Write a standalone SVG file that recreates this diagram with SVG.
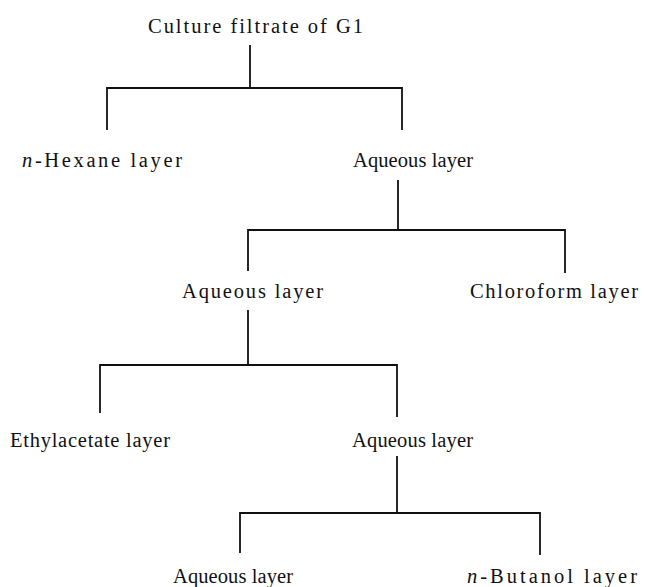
<svg xmlns="http://www.w3.org/2000/svg" width="646" height="587" viewBox="0 0 646 587">
<style>
text{font-family:"Liberation Serif","Times New Roman",serif;font-size:20.5px;fill:#111}
.i{font-style:italic}
#connectors path{fill:none;stroke:#111;stroke-width:1.8}
</style>
<rect width="646" height="587" fill="#fff"/>
<g id="connectors">
<path d="M250,45V88M107,130V88H402V130"/>
<path d="M398,180V230M248,271V230H565V273"/>
<path d="M248,310V365M100,413V365H397V417"/>
<path d="M397,456V513M240,553V513H540V555"/>
</g>
<g id="n-root"><text x="148" y="33" textLength="215" lengthAdjust="spacing">Culture filtrate of G1</text></g>
<g id="n-hexane"><text x="22" y="167" textLength="160" lengthAdjust="spacing"><tspan class="i">n</tspan>-Hexane layer</text></g>
<g id="n-aq1"><text x="353" y="167" textLength="120" lengthAdjust="spacing">Aqueous layer</text></g>
<g id="n-aq2"><text x="182" y="298" textLength="141" lengthAdjust="spacing">Aqueous layer</text></g>
<g id="n-chloro"><text x="470" y="298" textLength="168" lengthAdjust="spacing">Chloroform layer</text></g>
<g id="n-ethyl"><text x="10" y="447" textLength="160" lengthAdjust="spacing">Ethylacetate layer</text></g>
<g id="n-aq3"><text x="352" y="447" textLength="121" lengthAdjust="spacing">Aqueous layer</text></g>
<g id="n-aq4"><text x="173" y="583" textLength="120" lengthAdjust="spacing">Aqueous layer</text></g>
<g id="n-butanol"><text x="467" y="583" textLength="170" lengthAdjust="spacing"><tspan class="i">n</tspan>-Butanol layer</text></g>
</svg>
